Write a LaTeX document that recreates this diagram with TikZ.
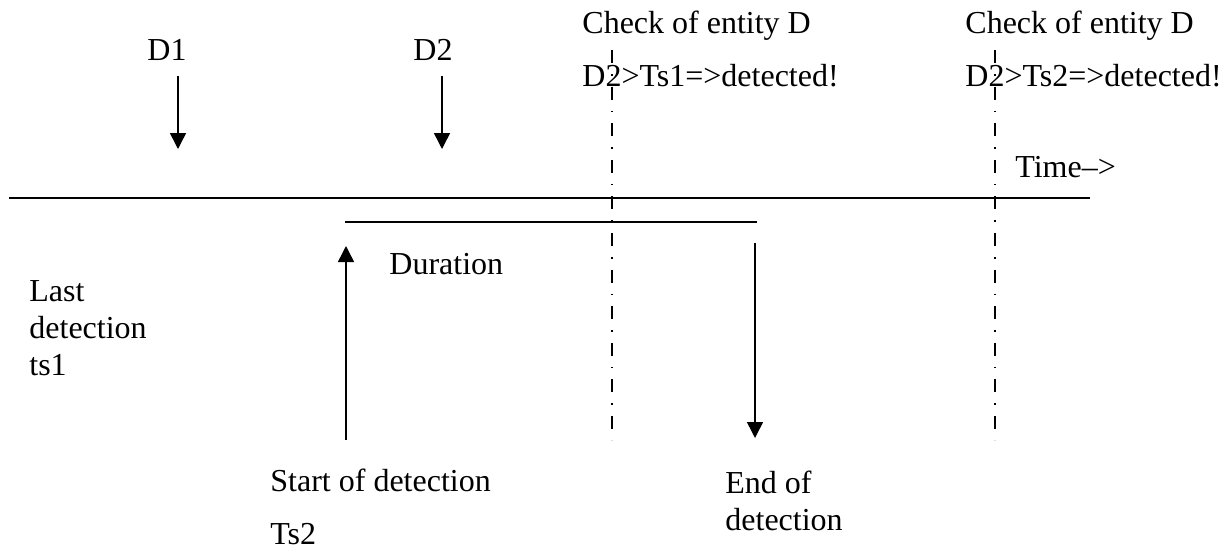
\documentclass[tikz,border=0pt]{standalone}
\usepackage{fontspec}
\setmainfont{Liberation Serif}
\usetikzlibrary{arrows.meta}
\tikzset{
  lbl/.style={inner sep=0pt, anchor=base west, align=left,
    font=\fontsize{16}{18.5}\selectfont},
  axisline/.style={line width=1.2pt},
  evarrow/.style={line width=0.75pt, -{Triangle[width=8pt,length=8pt]}},
  checkline/.style={line width=0.65pt,
    dash pattern=on 6.5pt off 5.5pt on 0.8pt off 5.5pt}
}
\begin{document}
\begin{tikzpicture}[x=0.5pt,y=-0.5pt]
  \useasboundingbox (0,0) rectangle (1231,547);
  % time axis and duration bar
  \coordinate (axisL) at (9,198);
  \coordinate (axisR) at (1090,198);
  \coordinate (durL) at (345,222);
  \coordinate (durR) at (757,222);
  \draw[axisline] (axisL) -- (axisR);
  \draw[axisline] (durL) -- (durR);
  \node[lbl] (time) at (1015,177) {Time\textendash{}>};
  \node[lbl] (dur) at (389,274) {Duration};
  % the two detections D1, D2
  \foreach \n/\lx/\ax in {1/147/178,2/413/442} {
    \node[lbl] (d\n) at (\lx,60) {D\n};
    \coordinate (d\n top) at (\ax,76);
    \coordinate (d\n tip) at (\ax,149);
    \draw[evarrow] (d\n top) -- (d\n tip);
  }
  % checks of entity D (multi-line nodes sit on their last baseline)
  \foreach \cx/\ts in {612/1,995/2} {
    \node[lbl] (check\ts) at (\cx-30,86)
      {Check of entity D\\[8pt]D2>Ts\ts=>detected!};
    \coordinate (chktop\ts) at (\cx,50);
    \coordinate (chkbot\ts) at (\cx,440);
    \draw[checkline] (chktop\ts) -- (chkbot\ts);
  }
  % start and end of detection
  \coordinate (startbot) at (346,440);
  \coordinate (starttip) at (346,246);
  \coordinate (endtop) at (755,243);
  \coordinate (endtip) at (755,438);
  \draw[evarrow] (startbot) -- (starttip);
  \draw[evarrow] (endtop) -- (endtip);
  \node[lbl] (last) at (29,375) {Last\\detection\\ts1};
  \node[lbl] (start) at (270,544) {Start of detection\\[8pt]Ts2};
  \node[lbl] (end) at (725,530) {End of\\detection};
\end{tikzpicture}
\end{document}
